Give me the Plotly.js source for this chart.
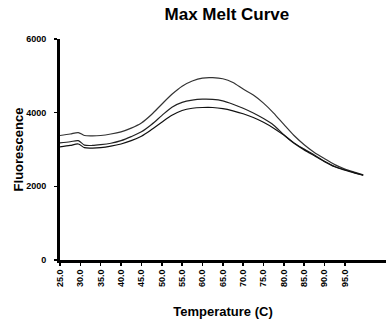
<!DOCTYPE html>
<html>
<head>
<meta charset="utf-8">
<script src="https://cdn.plot.ly/plotly-3.0.1.min.js"></script>
<style>html,body{margin:0;padding:0;background:#fff;}#chart{width:386px;height:329px;}</style>
</head>
<body>
<div id="chart"></div>
<script>
const temperature = [25, 27.5, 29.5, 31, 33, 35, 37.5, 40, 42.5, 45, 47.5, 50, 52.5, 55, 57.5, 60, 62.5, 65, 67.5, 70, 72.5, 75, 77.5, 80, 82.5, 85, 87.5, 90, 92.5, 95, 97.5, 99.5];
const seriesTop = [3380, 3420, 3460, 3380, 3370, 3380, 3420, 3480, 3580, 3720, 3950, 4230, 4500, 4720, 4860, 4940, 4950, 4920, 4820, 4640, 4480, 4260, 3990, 3680, 3380, 3130, 2920, 2750, 2590, 2470, 2380, 2310];
const seriesMid = [3180, 3210, 3240, 3120, 3110, 3130, 3170, 3240, 3350, 3480, 3680, 3920, 4150, 4280, 4340, 4365, 4360, 4320, 4230, 4120, 3990, 3840, 3660, 3400, 3180, 3010, 2850, 2680, 2540, 2450, 2365, 2300];
const seriesLow = [3070, 3110, 3150, 3050, 3040, 3050, 3090, 3150, 3240, 3360, 3540, 3740, 3930, 4060, 4120, 4140, 4140, 4110, 4050, 3970, 3870, 3740, 3580, 3390, 3170, 2990, 2830, 2670, 2530, 2440, 2360, 2300];
const xTickVals = [25, 30, 35, 40, 45, 50, 55, 60, 65, 70, 75, 80, 85, 90, 95];
const xTickText = ["25.0", "30.0", "35.0", "40.0", "45.0", "50.0", "55.0", "60.0", "65.0", "70.0", "75.0", "80.0", "85.0", "90.0", "95.0"];
const yTickVals = [0, 2000, 4000, 6000];

const FONT = "Liberation Sans, Arial, Helvetica, sans-serif";
function line(y, color) {
  return {x: temperature, y: y, type: 'scatter', mode: 'lines',
    line: {color: color, width: 1.2, shape: 'spline', smoothing: 0.8},
    hoverinfo: 'skip', showlegend: false};
}
const data = [line(seriesTop, '#333'), line(seriesMid, '#222'), line(seriesLow, '#111')];
const layout = {
  width: 386, height: 329,
  margin: {l: 60, r: 0, t: 39, b: 69, pad: 0},
  paper_bgcolor: '#fff', plot_bgcolor: '#fff',
  font: {family: FONT, color: '#000'},
  title: {text: 'Max Melt Curve', font: {family: FONT, size: 17, weight: 'bold', color: '#000'},
    xref: 'paper', x: 0.512, xanchor: 'center', yref: 'container', y: 0.957, yanchor: 'middle'},
  xaxis: {
    range: [25, 105.1], tickmode: 'array', tickvals: xTickVals, ticktext: xTickText,
    tickangle: -90, ticks: 'outside', ticklen: 3, tickwidth: 1.5, tickcolor: '#000',
    tickfont: {family: FONT, size: 9, weight: 'bold', color: '#000'},
    showline: true, linewidth: 3, linecolor: '#000', showgrid: false, zeroline: false,
    title: {text: 'Temperature (C)', font: {family: FONT, size: 13, weight: 'bold', color: '#000'}, standoff: 21},
    automargin: false, fixedrange: true
  },
  yaxis: {
    range: [0, 6000], tickmode: 'array', tickvals: yTickVals,
    ticks: 'outside', ticklen: 3, tickwidth: 1.5, tickcolor: '#000', ticklabelstandoff: 6,
    tickfont: {family: FONT, size: 9, weight: 'bold', color: '#000'},
    showline: true, linewidth: 3, linecolor: '#000', showgrid: false, zeroline: false,
    title: {text: 'Fluorescence', font: {family: FONT, size: 13, weight: 'bold', color: '#000'}, standoff: 0},
    automargin: false, fixedrange: true
  }
};
Plotly.newPlot('chart', data, layout, {displayModeBar: false, staticPlot: true});
</script>
</body>
</html>
